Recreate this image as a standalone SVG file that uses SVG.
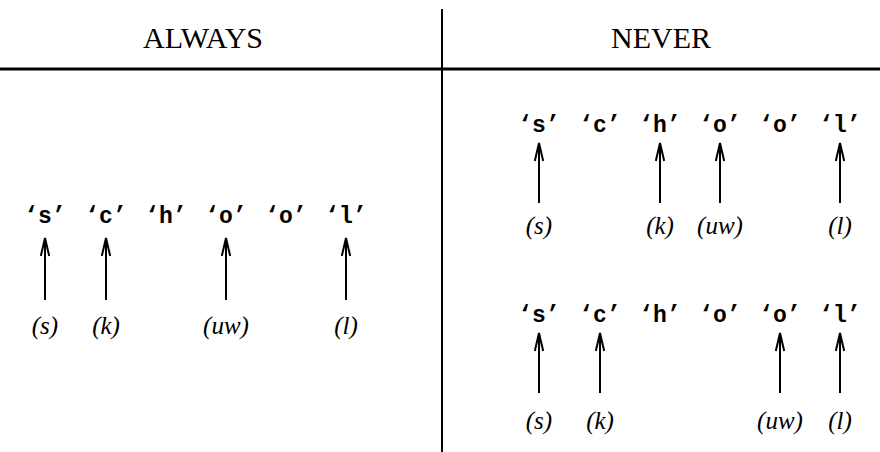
<svg xmlns="http://www.w3.org/2000/svg" width="880" height="452" viewBox="0 0 880 452">
<defs>
<style>
.hd{font-family:"Liberation Serif",serif;font-size:30px;text-anchor:middle;fill:#000}
.ch{font-family:"Liberation Mono",monospace;font-weight:bold;font-size:23px;text-anchor:middle;fill:#000}
.lb{font-family:"Liberation Serif",serif;font-style:italic;font-size:25px;text-anchor:middle;fill:#000}
.ar{stroke:#000;stroke-width:2;fill:none;marker-end:url(#ah)}
.rule{stroke:#000;fill:none}
</style>
<marker id="ah" viewBox="0 0 20 10" refX="19" refY="5" markerWidth="20" markerHeight="10" markerUnits="userSpaceOnUse" orient="auto">
<path d="M1,0.8 L19,5 L1,9.2" stroke="#000" stroke-width="2" fill="none" stroke-linejoin="miter"/>
</marker>
</defs>
<rect width="880" height="452" fill="#fff"/>
<g id="table">
<line class="rule" x1="0" y1="69" x2="880" y2="69" stroke-width="3"/>
<line class="rule" x1="442" y1="9" x2="442" y2="452" stroke-width="2"/>
</g>
<g id="header-always"><text class="hd" x="203" y="48">ALWAYS</text></g>
<g id="header-never"><text class="hd" x="661" y="48">NEVER</text></g>
<g id="row-always">
<text class="ch" x="45" y="223">‘s’</text>
<text class="ch" x="106" y="223">‘c’</text>
<text class="ch" x="166" y="223">‘h’</text>
<text class="ch" x="226" y="223">‘o’</text>
<text class="ch" x="286" y="223">‘o’</text>
<text class="ch" x="346" y="223">‘l’</text>
<text class="lb" x="45" y="334">(s)</text>
<text class="lb" x="106" y="334">(k)</text>
<text class="lb" x="226" y="334">(uw)</text>
<text class="lb" x="346" y="334">(l)</text>
</g>
<g id="row-never-1">
<text class="ch" x="539" y="132">‘s’</text>
<text class="ch" x="600" y="132">‘c’</text>
<text class="ch" x="660" y="132">‘h’</text>
<text class="ch" x="720" y="132">‘o’</text>
<text class="ch" x="780" y="132">‘o’</text>
<text class="ch" x="840" y="132">‘l’</text>
<text class="lb" x="539" y="234">(s)</text>
<text class="lb" x="660" y="234">(k)</text>
<text class="lb" x="720" y="234">(uw)</text>
<text class="lb" x="840" y="234">(l)</text>
</g>
<g id="row-never-2">
<text class="ch" x="539" y="322">‘s’</text>
<text class="ch" x="600" y="322">‘c’</text>
<text class="ch" x="660" y="322">‘h’</text>
<text class="ch" x="720" y="322">‘o’</text>
<text class="ch" x="780" y="322">‘o’</text>
<text class="ch" x="840" y="322">‘l’</text>
<text class="lb" x="539" y="429">(s)</text>
<text class="lb" x="600" y="429">(k)</text>
<text class="lb" x="780" y="429">(uw)</text>
<text class="lb" x="840" y="429">(l)</text>
</g>
<g id="connectors">
<line class="ar" x1="45" y1="300" x2="45" y2="238"/>
<line class="ar" x1="106" y1="300" x2="106" y2="238"/>
<line class="ar" x1="226" y1="300" x2="226" y2="238"/>
<line class="ar" x1="346" y1="300" x2="346" y2="238"/>
<line class="ar" x1="539" y1="203" x2="539" y2="143"/>
<line class="ar" x1="660" y1="203" x2="660" y2="143"/>
<line class="ar" x1="720" y1="203" x2="720" y2="143"/>
<line class="ar" x1="840" y1="203" x2="840" y2="143"/>
<line class="ar" x1="539" y1="393" x2="539" y2="333"/>
<line class="ar" x1="600" y1="393" x2="600" y2="333"/>
<line class="ar" x1="780" y1="393" x2="780" y2="333"/>
<line class="ar" x1="840" y1="393" x2="840" y2="333"/>
</g>
</svg>
